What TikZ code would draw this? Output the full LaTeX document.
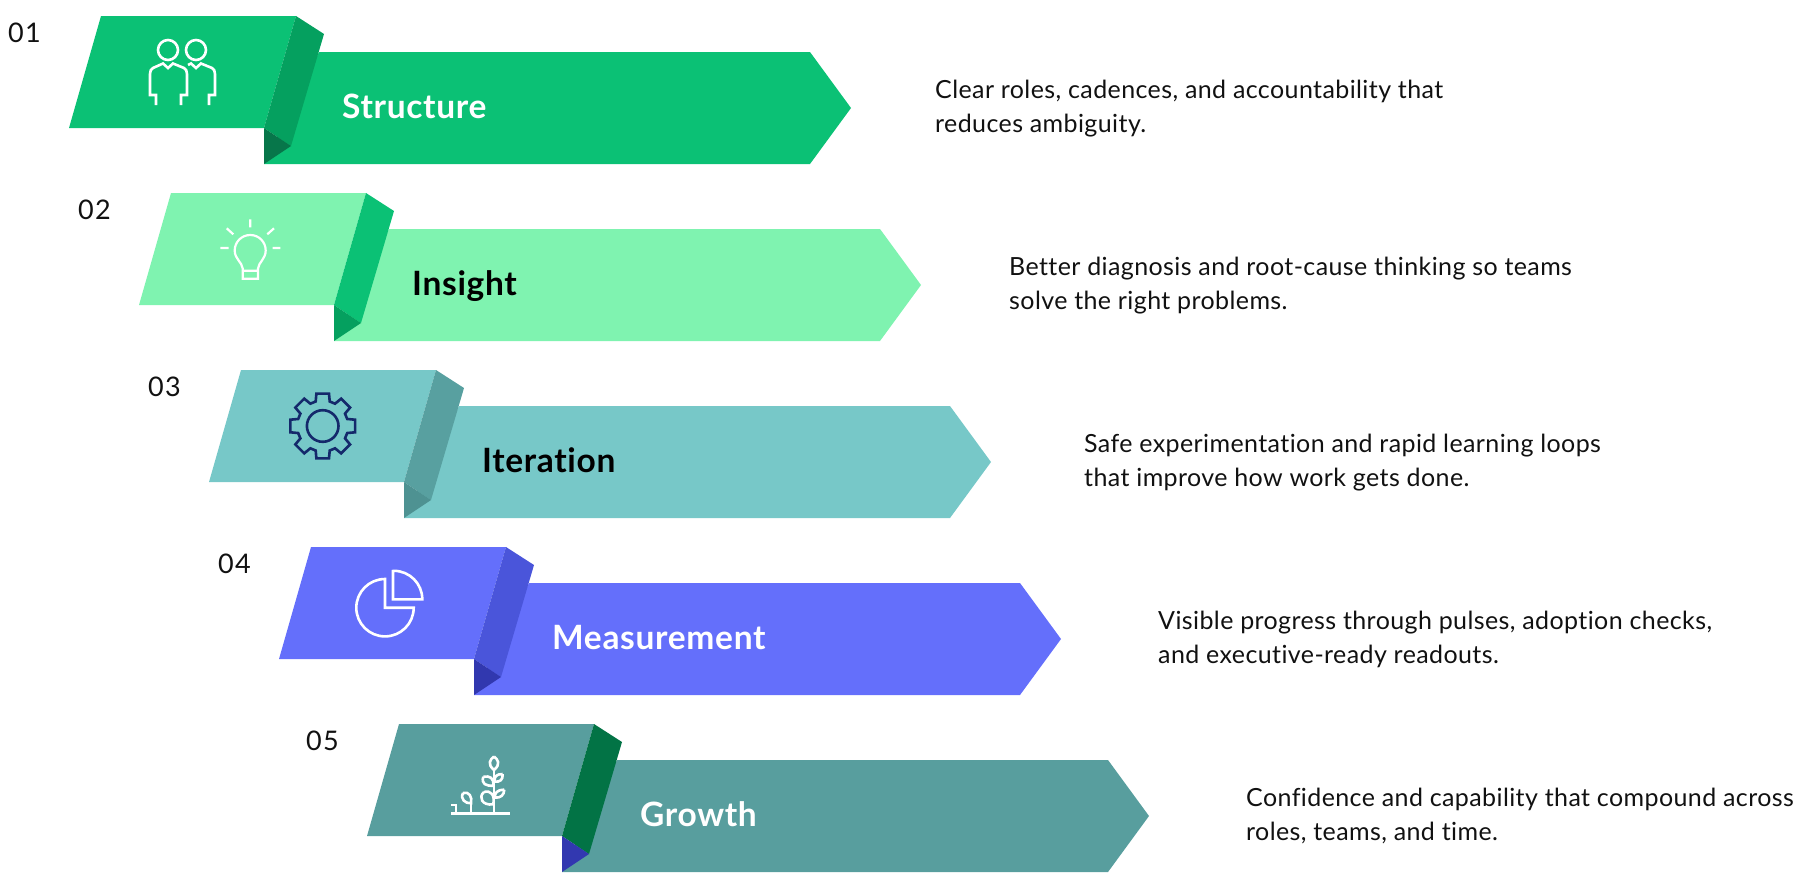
\documentclass[tikz,border=0pt]{standalone}
\usepackage{fontspec}
\setmainfont[Ligatures=NoCommon]{Lato}
\newfontfamily\numfont[LetterSpace=5,Ligatures=NoCommon]{Lato}
\newfontfamily\titlefont[LetterSpace=2,Ligatures=NoCommon,BoldFont={Lato Bold}]{Lato}
\newfontfamily\descfont[LetterSpace=1.6,Ligatures=NoCommon]{Lato}
\definecolor{gA}{HTML}{0BC175}\definecolor{gAf}{HTML}{05A05F}\definecolor{gAt}{HTML}{07764A}
\definecolor{gB}{HTML}{7FF3B0}
\definecolor{gC}{HTML}{77C8C8}\definecolor{gCf}{HTML}{58A0A0}\definecolor{gCt}{HTML}{4E9292}
\definecolor{gD}{HTML}{646FFB}\definecolor{gDf}{HTML}{4A55DA}\definecolor{gDt}{HTML}{3138AF}
\definecolor{gE}{HTML}{589E9E}\definecolor{gEf}{HTML}{027345}\definecolor{gEt}{HTML}{3238B0}
\definecolor{navy}{HTML}{14296B}\definecolor{ink}{HTML}{111111}
\tikzset{
  numlabel/.style={anchor=base west,inner sep=0pt,font=\fontsize{27}{27}\selectfont\numfont,text=ink},
  title/.style={anchor=base west,inner sep=0pt,font=\fontsize{33.5}{33.5}\selectfont\titlefont\bfseries},
  desc/.style={anchor=base west,inner sep=0pt,align=left,font=\fontsize{25}{34.5}\selectfont\descfont,text=ink},
  iconw/.style={draw=white,line width=2.6pt,fill=none,line join=miter},
  icond/.style={draw=navy,line width=2.6pt,fill=none,line join=miter}
}
\newcommand{\ribbon}[5]{%
  \begin{scope}[shift={(#1,#2)}]
    \fill[#3] (319,52) -- (810,52) -- (851,108) -- (810,164) -- (264,164) -- cycle;
    \fill[#3] (101,16) -- (296,16) -- (264,128) -- (69,128) -- cycle;
    \fill[#4] (296,16) -- (324,34) -- (291,146) -- (264,128) -- cycle;
    \fill[#5] (264,128) -- (291,146) -- (264,164) -- cycle;
  \end{scope}}
\begin{document}
\begin{tikzpicture}[x=1pt,y=-1pt]
\useasboundingbox (0,0) rectangle (1798,881);
\ribbon{0}{0}{gA}{gAf}{gAt}
\ribbon{70}{177}{gB}{gA}{gAf}
\ribbon{140}{354}{gC}{gCf}{gCt}
\ribbon{210}{531}{gD}{gDf}{gDt}
\ribbon{298}{708}{gE}{gEf}{gEt}
% people
\draw[iconw] (168,50) circle (10);
\draw[iconw] (196,50) circle (10);
\draw[iconw] (156,105) -- (156,95) -- (150,95) -- (150,74) .. controls (150,71) and (151,69) .. (153,68) -- (163,63.5) -- (168,68) -- (173,63.5) -- (184,68) .. controls (186,69) and (187,71) .. (187,74) -- (187,95) -- (181,95) -- (181,105);
\draw[iconw] (188,65) -- (191,63.5) -- (196,68) -- (201,63.5) -- (212,68) .. controls (214,69) and (215,71) .. (215,74) -- (215,95) -- (209,95) -- (209,105);
% bulb
\draw[iconw,line width=2.2pt] (250.3,219.3) -- (250.3,227.3) (226.7,228.3) -- (233.3,234.3) (274,228.3) -- (267.3,234.3) (220.3,248) -- (228.7,248) (272.7,248) -- (280.3,248);
\draw[iconw,line width=2.2pt] (242.7,268.5) .. controls (242,262) and (234.7,259) .. (234.7,250.5) .. controls (234.7,242) and (241.5,235) .. (250.3,235) .. controls (259,235) and (265.7,242) .. (265.7,250.5) .. controls (265.7,259) and (258.7,262) .. (258,268.5) -- (258,278.7) -- (242.7,278.7) -- cycle (242.7,270.7) -- (258,270.7);
% gear
\draw[icond,shift={(322.7,426)}] (-16:25.5) \foreach \a in {0,45,...,315} { -- ({\a-16}:25.5) -- ({\a-11}:33) -- ({\a+11}:33) -- ({\a+16}:25.5) } -- cycle;
\draw[icond] (322.7,426) circle (15.8);
% pie
\draw[iconw,line join=miter] (385,579) -- (385,607.7) -- (413.7,607.7) arc[start angle=0,end angle=270,radius=28.7] -- cycle;
\draw[iconw] (393,571) -- (393,599.3) -- (422.3,599.3) arc[start angle=0,end angle=-90,radius=28.5] -- cycle;
% plant
\draw[iconw] (451.3,813.7) -- (509.7,813.7) (494,813.7) -- (494,770) (471,813.7) -- (471,803.3) (451.3,805) -- (456,805) -- (456,813.7);
\draw[iconw] (494,756.5) .. controls (490,759.5) and (487,764) .. (494,770) .. controls (501,764) and (498,759.5) .. (494,756.5);
\draw[iconw] (483.3,776.7) .. controls (481,784) and (486,786) .. (493.3,785.7) .. controls (494,778) and (490,775.5) .. (483.3,776.7);
\draw[iconw] (484,792) .. controls (478,797) and (482,806) .. (493.3,804.3) .. controls (495,795) and (491,790) .. (484,792);
\draw[iconw] (502.7,774) .. controls (496,774) and (494,777) .. (494.7,781.7) .. controls (500,782) and (503,780) .. (502.7,774);
\draw[iconw] (504.3,789.7) .. controls (497,789.7) and (494.7,793) .. (494.7,797.7) .. controls (501,798) and (504,795) .. (504.3,789.7);
\draw[iconw] (463,793) .. controls (460,799) and (465,803.5) .. (471,803.3) .. controls (472.5,797) and (469,791) .. (463,793);
% numbers
\node[numlabel] (n1) at (8,42) {01};
\node[numlabel] (n2) at (78,219) {02};
\node[numlabel] (n3) at (148,396) {03};
\node[numlabel] (n4) at (218,573) {04};
\node[numlabel] (n5) at (306,750) {05};
% titles
\node[title,text=white] (t1) at (342,118) {Structure};
\node[title,text=black] (t2) at (412,295) {Insight};
\node[title,text=black] (t3) at (482,472) {Iteration};
\node[title,text=white] (t4) at (552,649) {Measurement};
\node[title,text=white] (t5) at (640,826) {Growth};
% descriptions
\node[desc] (d1) at (935,132.5) {Clear roles, cadences, and accountability that\\reduces ambiguity.};
\node[desc] (d2) at (1009,309.5) {Better diagnosis and root-cause thinking so teams\\solve the right problems.};
\node[desc] (d3) at (1084,486.5) {Safe experimentation and rapid learning loops\\that improve how work gets done.};
\node[desc] (d4) at (1158,663.5) {Visible progress through pulses, adoption checks,\\and executive-ready readouts.};
\node[desc] (d5) at (1246,840.5) {Confidence and capability that compound across\\roles, teams, and time.};
\end{tikzpicture}
\end{document}
